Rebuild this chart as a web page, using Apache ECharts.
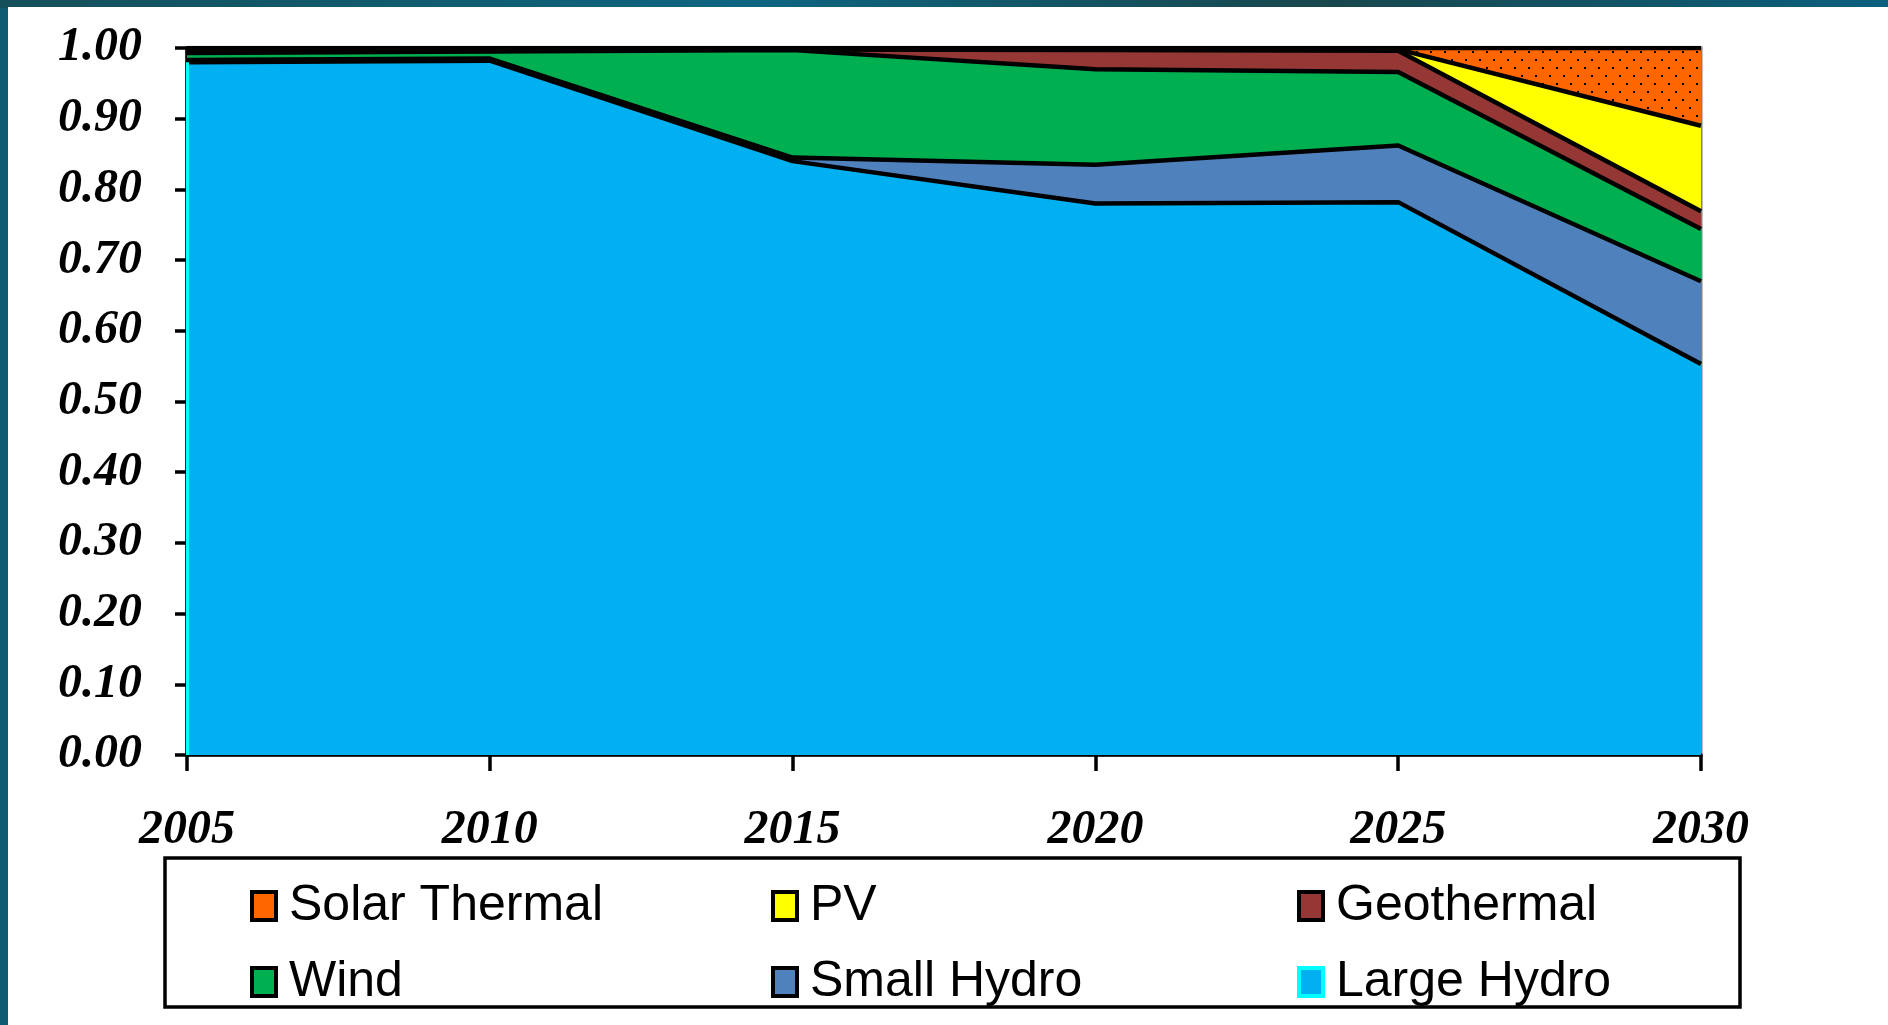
<!DOCTYPE html>
<html lang="en">
  <head>
    <meta charset="UTF-8" />
    <title>Generation share</title>
    <script src="https://cdn.jsdelivr.net/npm/echarts@6.0.0/dist/echarts.min.js"></script>
    <style>
      html, body { margin: 0; padding: 0; }
    </style>
  </head>
  <body>
    <div id="chart" style="width: 1888px; height: 1025px"></div>
    <script>
      // data
      const years = ['2005', '2010', '2015', '2020', '2025', '2030']
      const largeHydro = [0.980, 0.982, 0.840, 0.780, 0.782, 0.553]
      const smallHydro = [0.003, 0.003, 0.005, 0.055, 0.080, 0.117]
      const wind = [0.010, 0.010, 0.152, 0.135, 0.104, 0.074]
      const geothermal = [0.005, 0.003, 0.001, 0.027, 0.030, 0.025]
      const pv = [0.001, 0.001, 0.001, 0.002, 0.002, 0.121]
      const solarThermal = [0.001, 0.001, 0.001, 0.001, 0.002, 0.110]

      // dotted fill for solar thermal
      const dots = document.createElement('canvas')
      dots.width = 14
      dots.height = 16
      const ctx = dots.getContext('2d')
      ctx.fillStyle = '#FF6600'
      ctx.fillRect(0, 0, 14, 16)
      ctx.fillStyle = '#000'
      ctx.fillRect(2, 3, 2, 2)
      ctx.fillRect(9, 11, 2, 2)

      const seriesDefs = [
        { name: 'Large Hydro', data: largeHydro, color: '#00B0F0', fill: '#00B0F0', edge: '#00FFFF' },
        { name: 'Small Hydro', data: smallHydro, color: '#4F81BD', fill: '#4F81BD', edge: '#000' },
        { name: 'Wind', data: wind, color: '#00B050', fill: '#00B050', edge: '#000' },
        { name: 'Geothermal', data: geothermal, color: '#953735', fill: '#953735', edge: '#000' },
        { name: 'PV', data: pv, color: '#FFFF00', fill: '#FFFF00', edge: '#000' },
        { name: 'Solar Thermal', data: solarThermal, color: '#FF6600', fill: { image: dots, repeat: 'repeat' }, edge: '#000' },
      ]

      // legend placement: [name, left, top]
      const legendSlots = [
        ['Solar Thermal', 245, 876],
        ['PV', 766, 876],
        ['Geothermal', 1292, 876],
        ['Wind', 245, 952],
        ['Small Hydro', 766, 952],
        ['Large Hydro', 1292, 952],
      ]

      const serifBold = {
        fontFamily: 'Liberation Serif',
        fontWeight: 'bold',
        fontStyle: 'italic',
        fontSize: 48,
        color: '#000',
      }

      const chart = echarts.init(document.getElementById('chart'))

      const option = {
        backgroundColor: '#0f5c72',
        animation: false,
        graphic: [
          {
            type: 'rect',
            shape: { x: 0, y: 0, width: 1888, height: 8 },
            style: {
              fill: new echarts.graphic.LinearGradient(0, 0, 1, 0, [
                { offset: 0, color: '#15505a' },
                { offset: 0.4, color: '#0e6581' },
                { offset: 0.7, color: '#18474c' },
                { offset: 1, color: '#0c5f7e' },
              ]),
            },
            z: -10,
          },
          {
            type: 'rect',
            shape: { x: 8, y: 7, width: 1880, height: 1018 },
            style: { fill: '#fff' },
            z: -10,
          },
          {
            type: 'rect',
            shape: { x: 165, y: 858, width: 1575, height: 149 },
            style: { fill: 'none', stroke: '#000', lineWidth: 3.5 },
            z: 1,
          },
        ],
        grid: {
          left: 187,
          right: 187,
          top: 48,
          bottom: 270,
          show: true,
          borderColor: '#808080',
          borderWidth: 3,
          backgroundColor: 'transparent',
        },
        legend: legendSlots.map(([name, left, top]) => ({
          left: left,
          top: top,
          icon: 'rect',
          itemWidth: 24,
          itemHeight: 28,
          selectedMode: false,
          itemStyle: { borderWidth: 4 },
          data: [
            {
              name: name,
              itemStyle: {
                borderColor: name === 'Large Hydro' ? '#00FFFF' : '#000',
                borderWidth: 4,
              },
            },
          ],
          textStyle: {
            fontFamily: 'Liberation Sans',
            fontSize: 50,
            color: '#000',
            padding: [0, 0, 0, 8],
          },
        })),
        xAxis: {
          type: 'category',
          data: years,
          boundaryGap: false,
          axisLine: { lineStyle: { color: '#000', width: 3.5 } },
          axisTick: { inside: false, length: 16, lineStyle: { color: '#000', width: 3.5 } },
          axisLabel: Object.assign({ margin: 52 }, serifBold),
          splitLine: { show: false },
        },
        yAxis: {
          type: 'value',
          min: 0,
          max: 1,
          interval: 0.1,
          axisLine: { show: true, lineStyle: { color: '#000', width: 3.5 } },
          axisTick: { show: true, inside: false, length: 12, lineStyle: { color: '#000', width: 3.5 } },
          axisLabel: Object.assign({ margin: 45, formatter: v => v.toFixed(2) }, serifBold),
          splitLine: { show: false },
        },
        series: seriesDefs.map((s, i) => ({
          name: s.name,
          type: 'line',
          stack: 'share',
          data: s.data,
          showSymbol: false,
          symbol: 'none',
          itemStyle: { color: s.color, borderColor: s.edge, borderWidth: 4 },
          lineStyle: { color: '#000', width: 4.5 },
          areaStyle: { color: s.fill, opacity: 1 },
          emphasis: { disabled: true },
          // cyan left edge of the large hydro area
          markLine: i === 0 ? {
            silent: true,
            symbol: 'none',
            label: { show: false },
            lineStyle: { color: '#00FFFF', width: 3, type: 'solid' },
            data: [[{ coord: [years[0], 0] }, { coord: [years[0], largeHydro[0]] }]],
          } : undefined,
        })),
      }

      chart.setOption(option)
    </script>
  </body>
</html>
